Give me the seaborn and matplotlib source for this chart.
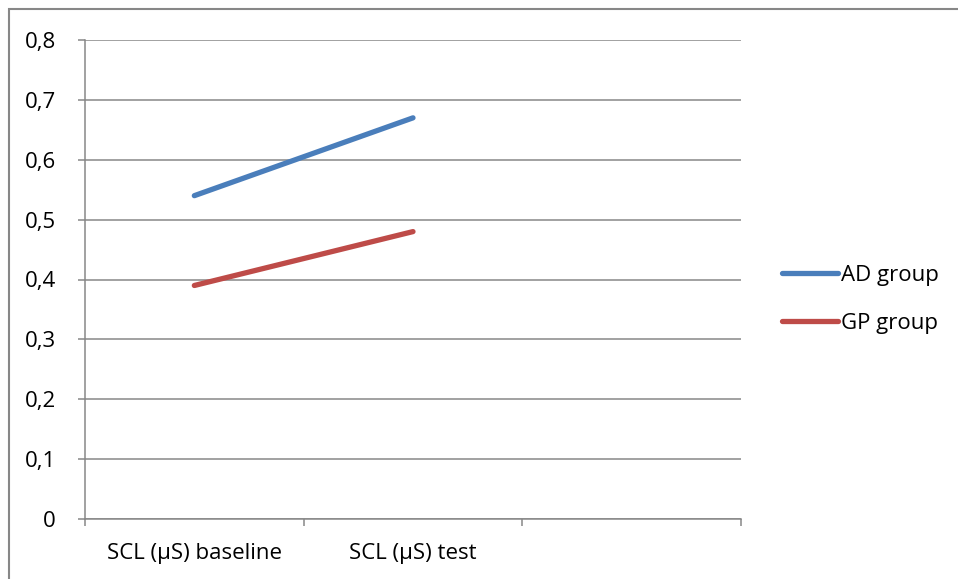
import matplotlib
matplotlib.use("Agg")
import matplotlib.pyplot as plt
from matplotlib.patches import Rectangle
from matplotlib.ticker import FuncFormatter, MultipleLocator, FixedLocator
import seaborn as sns
import pandas as pd

# Mean skin conductance level per group and phase
measures = ["SCL (\u00b5S) baseline", "SCL (\u00b5S) test"]
groups = ["AD group", "GP group"]
ad_values = [0.54, 0.67]
gp_values = [0.39, 0.48]
colors = ["#4A7EBB", "#BE4B48"]

df = pd.DataFrame({
    "measure": measures * 2,
    "group": [groups[0]] * 2 + [groups[1]] * 2,
    "scl": ad_values + gp_values,
})

sns.set_theme(style="white")
plt.rcParams["font.family"] = ["Open Sans", "DejaVu Sans"]
plt.rcParams["text.color"] = "black"

W, H = 958, 579
FS = 16
fig = plt.figure(figsize=(W / 100, H / 100), dpi=100)
ax = fig.add_axes([85 / W, 1 - 519 / H, (741 - 85) / W, (519 - 40) / H])

sns.lineplot(data=df, x="measure", y="scl", hue="group", palette=colors,
             linewidth=3.8, solid_capstyle="round", ax=ax, legend=True)

grid_col = "#878787"
ax.set_xlim(-0.5, 2.5)
ax.set_ylim(0, 0.8)
ax.yaxis.set_major_locator(MultipleLocator(0.1))
ax.yaxis.set_major_formatter(FuncFormatter(lambda v, p: f"{v:.1f}".replace(".", ",") if v > 1e-9 else "0"))
ax.grid(axis="y", color=grid_col, linewidth=1.1)
ax.set_axisbelow(True)

ax.xaxis.set_major_locator(FixedLocator([0, 1]))
ax.set_xticklabels(measures)
ax.xaxis.set_minor_locator(FixedLocator([-0.5, 0.5, 1.5, 2.5]))
ax.tick_params(axis="x", which="major", length=0, pad=17, labelsize=FS, labelcolor="black")
ax.tick_params(axis="x", which="minor", length=5, width=1.1, color=grid_col, direction="out", bottom=True)
ax.tick_params(axis="y", which="major", length=5, width=1.1, color=grid_col, direction="out",
               left=True, pad=16, labelsize=FS, labelcolor="black")
ax.set_xlabel("")
ax.set_ylabel("")

for side in ("top", "right"):
    ax.spines[side].set_visible(False)
for side in ("left", "bottom"):
    ax.spines[side].set_color(grid_col)
    ax.spines[side].set_linewidth(1.1)

handles, labels = ax.get_legend_handles_labels()
ax.get_legend().remove()
fig.legend(handles, labels, loc="center left", bbox_to_anchor=(782 / W, 1 - 299.5 / H),
           frameon=False, fontsize=FS, handlelength=2.5, handletextpad=0.15,
           labelspacing=1.2, borderpad=0, borderaxespad=0, labelcolor="black")

# Outer chart frame (left and top edges visible)
fig.add_artist(Rectangle((8.5 / W, -0.1), 1.5, 1 - 9.5 / H + 0.1, transform=fig.transFigure,
                         fill=False, edgecolor="#878787", linewidth=1.5))

fig.savefig("out.png", dpi=100, facecolor="white")
